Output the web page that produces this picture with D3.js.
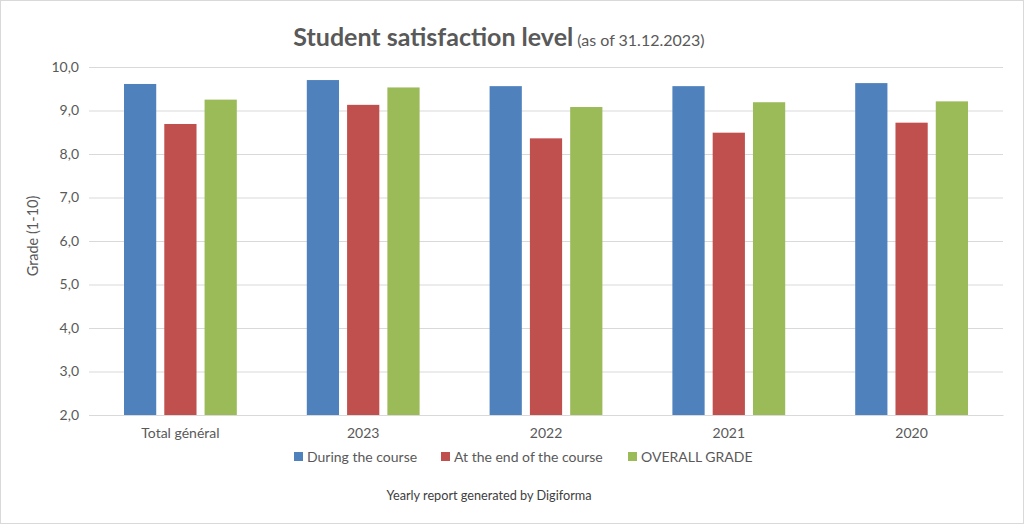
<!DOCTYPE html>
<html><head><meta charset="utf-8">
<script src="https://cdn.jsdelivr.net/npm/d3@7"></script>
<style>html,body{margin:0;padding:0;background:#fff;}svg{display:block;}</style>
</head><body>
<script>
const categories = ["Total général","2023","2022","2021","2020"];
const seriesNames = ["During the course","At the end of the course","OVERALL GRADE"];
const duringCourse = [9.61, 9.70, 9.56, 9.56, 9.63];
const endOfCourse = [8.69, 9.13, 8.36, 8.49, 8.72];
const overallGrade = [9.25, 9.53, 9.08, 9.19, 9.21];
const yTicks = [2,3,4,5,6,7,8,9,10];
const colors = ["#4f81bd","#c0504d","#9bbb59"];

const W=1024,H=526;
const svg=d3.select("body").append("svg").attr("width",W).attr("height",H);
const font="Lato, 'Open Sans', sans-serif";
svg.append("rect").attr("x",0.5).attr("y",0.5).attr("width",W-1).attr("height",H-3).attr("fill","#fff").attr("stroke","#d9d9d9");

const m={left:89,right:1003,top:67,bottom:415};
const y=d3.scaleLinear().domain([2,10]).range([m.bottom,m.top]);
const x0=d3.scaleBand().domain(categories).range([m.left,m.right]).padding(0);
const x1=d3.scaleBand().domain(seriesNames).range([35,x0.bandwidth()-35]).paddingInner(0.2).paddingOuter(0);

const series=[duringCourse,endOfCourse,overallGrade];

// grid
const yAxis=d3.axisLeft(y).tickValues(yTicks).tickSize(-(m.right-m.left)).tickFormat(d=>d3.format(".1f")(d).replace(".",","));
const ga=svg.append("g").attr("transform",`translate(${m.left},0)`).call(yAxis);
ga.select(".domain").remove();
ga.selectAll(".tick line").attr("stroke","#d9d9d9").attr("stroke-width",1);
ga.selectAll(".tick text").attr("x",-10).attr("fill","#595959").style("font-family",font).style("font-size","14px");

// bars
categories.forEach((c,i)=>{
  seriesNames.forEach((s,j)=>{
    svg.append("rect")
      .attr("x",x0(c)+x1(s)).attr("width",x1.bandwidth())
      .attr("y",y(series[j][i])).attr("height",y(2)-y(series[j][i]))
      .attr("fill",colors[j]);
  });
});

// x axis labels
const xAxis=d3.axisBottom(x0).tickSize(0).tickPadding(13);
const gx=svg.append("g").attr("transform",`translate(0,${m.bottom})`).call(xAxis);
gx.select(".domain").attr("stroke","#d9d9d9");
gx.selectAll(".tick text").attr("fill","#595959").style("font-family",font).style("font-size","14px");

// y title
svg.append("text").attr("transform","translate(38,236) rotate(-90)").attr("text-anchor","middle")
 .attr("fill","#595959").style("font-family",font).style("font-size","14.5px").text("Grade (1-10)");

// title
const t=svg.append("text").attr("x",499).attr("y",46).attr("text-anchor","middle").attr("fill","#595959").style("font-family",font);
t.append("tspan").style("font-size","25px").style("font-weight","bold").text("Student satisfaction level");
t.append("tspan").style("font-size","16px").text(" (as of 31.12.2023)");

// legend
const legX=[294,441,628];
seriesNames.forEach((s,j)=>{
  svg.append("rect").attr("x",legX[j]).attr("y",452).attr("width",9).attr("height",9).attr("fill",colors[j]);
  svg.append("text").attr("x",legX[j]+13).attr("y",462).attr("fill","#595959").style("font-family",font).style("font-size","14px").text(s);
});

// footer
svg.append("text").attr("x",489).attr("y",500).attr("text-anchor","middle").attr("fill","#404040").style("font-family",font).style("font-size","12.7px").text("Yearly report generated by Digiforma");
</script>
</body></html>
